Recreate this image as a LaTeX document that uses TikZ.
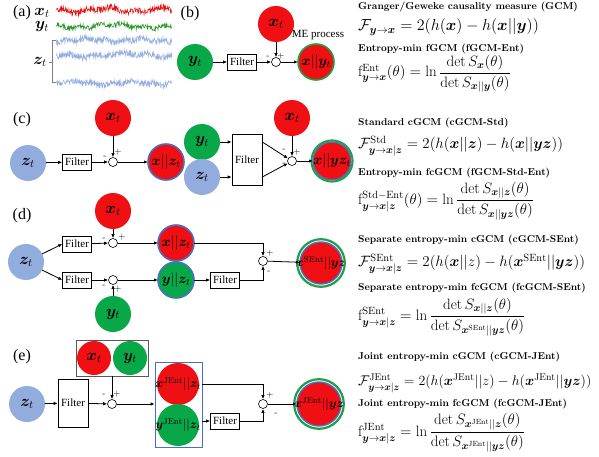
\RequirePackage{fix-cm}
\documentclass[tikz,border=0pt]{standalone}
\usepackage{amsmath,bm}
\usepackage{fontspec}
\newfontfamily\tms{Liberation Serif}
\usetikzlibrary{arrows.meta,calc}
\definecolor{redc}{RGB}{240,16,20}
\definecolor{greenc}{RGB}{8,168,72}
\definecolor{bluec}{RGB}{146,172,222}
\definecolor{blueb}{RGB}{70,112,196}
\definecolor{greenb}{RGB}{30,160,70}
\definecolor{serr}{RGB}{230,20,20}
\definecolor{serg}{RGB}{40,150,40}
\definecolor{serb}{RGB}{150,175,225}
\tikzset{
 cir/.style={circle, minimum size=36pt, inner sep=0pt, outer sep=0pt},
 rc/.style={cir, fill=redc},
 gc/.style={cir, fill=greenc},
 bc/.style={cir, fill=bluec},
 clab/.style={font=\fontsize{16}{16}\selectfont, inner sep=0pt},
 olab/.style={font=\fontsize{14}{14}\selectfont, inner sep=0pt},
 slab/.style={font=\fontsize{12.5}{12.5}\selectfont, inner sep=0pt},
 filt/.style={draw, line width=0.6pt, fill=white, inner sep=1pt, minimum width=29pt, minimum height=16pt, font=\tms\fontsize{11}{11}\selectfont},
 sumc/.style={circle, draw, line width=0.6pt, fill=white, minimum size=9pt, inner sep=0pt},
 arr/.style={-{Latex[length=4pt,width=3.4pt]}, line width=0.8pt},
 pm/.style={font=\fontsize{9}{9}\selectfont, inner sep=0pt},
 ttl/.style={anchor=west, font=\bfseries\fontsize{10}{11}\selectfont, inner sep=0pt},
 eq/.style={anchor=west, font=\fontsize{15}{17}\selectfont, inner sep=0pt},
 eqb/.style={anchor=west, font=\fontsize{16}{18}\selectfont, inner sep=0pt},
 eqs/.style={anchor=west, font=\fontsize{14}{16}\selectfont, inner sep=0pt},
 plab/.style={font=\tms\fontsize{16}{16}\selectfont, inner sep=0pt},
 ser/.style={line width=0.5pt}
}
\begin{document}
\begin{tikzpicture}[x=1pt,y=-1pt]
\useasboundingbox (0,0) rectangle (599,457);
\fill[white] (0,0) rectangle (599,457);
\pgfmathsetseed{11}
% ---------------- (a)
\node[plab] (pa) at (22,13) {(a)};
\node[clab] (ax) at (42,13) {$\bm{x}_t$};
\node[clab] (ay) at (42,27) {$\bm{y}_t$};
\node[clab] (az) at (40,62) {$\bm{z}_t$};
\draw[gray, line width=0.5pt] (56,40) -- (52,40) -- (52,82) -- (56,82);
\draw[gray, line width=0.5pt] (52,62) -- (49,62);
\draw[ser, serr] plot[domain=56:172, samples=300] (\x,{10+3*rand+1.8*sin(6*\x)+1.4*sin(15*\x+30)});
\draw[ser, serg] plot[domain=56:172, samples=300] (\x,{26+2.6*rand+1.6*sin(5*\x+60)+1.2*sin(17*\x)});
\draw[ser, serb] plot[domain=56:172, samples=300] (\x,{40+3*rand+1.3*sin(7*\x+10)+1.2*sin(19*\x+80)});
\draw[ser, serb] plot[domain=56:172, samples=300] (\x,{55+3.2*rand+1.5*sin(4*\x+120)+1.2*sin(14*\x)});
\draw[ser, serb] plot[domain=56:172, samples=300] (\x,{83+3*rand+1.3*sin(6*\x+200)+1.1*sin(18*\x+45)});
% ---------------- (b)
\node[plab] (pb) at (190,14) {(b)};
\node[gc, label={[clab]center:$\bm{y}_t$}] (by) at (195,62) {};
\node[filt] (bf) at (242,62) {Filter};
\node[sumc] (bs) at (276,62) {};
\node[rc, label={[clab]center:$\bm{x}_t$}] (bx) at (276,24) {};
\node[rc, draw=greenb, line width=1.6pt, label={[olab]center:$\bm{x}||\bm{y}_t$}] (bo) at (316,62) {};
\node[font=\tms\fontsize{11}{11}\selectfont, inner sep=0pt] (bme) at (318,35) {ME process};
\draw[arr] (by) -- (bf);
\draw[arr] (bf) -- (bs);
\draw[arr] (bx) -- (bs);
\draw[arr] (bs) -- (bo);
\node[pm] (bm1) at (268,57) {-};
\node[pm] (bp1) at (281,56) {$+$};
\node[ttl] (bt1) at (358,7) {Granger/Geweke causality measure (GCM)};
\node[eqb] (be1) at (358,27) {$\mathcal{F}_{\bm{y}\to\bm{x}} = 2(h(\bm{x}) - h(\bm{x}||\bm{y}))$};
\node[ttl] (bt2) at (358,49) {Entropy-min fGCM (fGCM-Ent)};
\node[eq] (be2) at (358,74) {$\mathrm{f}^{\mathrm{Ent}}_{\bm{y}\to\bm{x}}(\theta) = \ln\dfrac{\det S_{\bm{x}}(\theta)}{\det S_{\bm{x}||\bm{y}}(\theta)}$};
% ---------------- (c)
\node[plab] (pc) at (22,120) {(c)};
\node[bc, label={[clab]center:$\bm{z}_t$}] (cz) at (28,163) {};
\node[filt] (cf1) at (77,162) {Filter};
\node[sumc] (cs1) at (113,162) {};
\node[rc, label={[clab]center:$\bm{x}_t$}] (cx1) at (113,118) {};
\node[rc, draw=blueb, line width=1.6pt, label={[olab]center:$\bm{x}||\bm{z}_t$}] (co1) at (166,162) {};
\draw[arr] (cz) -- (cf1);
\draw[arr] (cf1) -- (cs1);
\draw[arr] (cx1) -- (cs1);
\draw[arr] (cs1) -- (co1);
\node[pm] (cm1) at (105,157) {-};
\node[pm] (cp1) at (118,152) {$+$};
\node[gc, label={[clab]center:$\bm{y}_t$}] (cy) at (202,142) {};
\node[bc, label={[clab]center:$\bm{z}_t$}] (cz2) at (202,177) {};
\node[filt, minimum width=30pt, minimum height=51pt] (cf2) at (247,160) {Filter};
\node[sumc] (cs2) at (292,161) {};
\node[rc, label={[clab]center:$\bm{x}_t$}] (cx2) at (292,118) {};
\node[rc, minimum size=38pt, draw=blueb, line width=1.4pt, label={[olab]center:$\bm{x}||\bm{y}\bm{z}_t$}] (co2) at (332,161) {};
\draw[greenb, line width=2pt] (co2.center) circle (20.6pt);
\draw[arr] (cy) -- (cy -| cf2.west);
\draw[arr] (cz2) -- (cz2 -| cf2.west);
\draw[arr] (cf2.east |- cy) -- (cs2);
\draw[arr] (cf2.east |- cz2) -- (cs2);
\draw[arr] (cx2) -- (cs2);
\draw[arr] (cs2) -- (co2);
\node[pm] (cm2) at (284,150) {-};
\node[pm] (cm3) at (284,164) {-};
\node[pm] (cp2) at (297,152) {$+$};
\node[ttl] (ct1) at (358,123) {Standard cGCM (cGCM-Std)};
\node[eq] (ce1) at (358,146) {$\mathcal{F}^{\mathrm{Std}}_{\bm{y}\to\bm{x}|\bm{z}} = 2(h(\bm{x}||\bm{z}) - h(\bm{x}||\bm{y}\bm{z}))$};
\node[ttl] (ct2) at (358,173) {Entropy-min fcGCM (fGCM-Std-Ent)};
\node[eq] (ce2) at (358,201) {$\mathrm{f}^{\mathrm{Std-Ent}}_{\bm{y}\to\bm{x}|\bm{z}}(\theta) = \ln\dfrac{\det S_{\bm{x}||\bm{z}}(\theta)}{\det S_{\bm{x}||\bm{y}\bm{z}}(\theta)}$};
% ---------------- (d)
\node[plab] (pd) at (22,216) {(d)};
\node[bc, label={[clab]center:$\bm{z}_t$}] (dz) at (26,262) {};
\node[filt] (df1) at (77,244) {Filter};
\node[filt] (df2) at (77,280) {Filter};
\node[sumc] (ds1) at (113,243) {};
\node[sumc] (ds2) at (113,280) {};
\node[rc, label={[clab]center:$\bm{x}_t$}] (dx) at (113,211) {};
\node[gc, label={[clab]center:$\bm{y}_t$}] (dy) at (113,314) {};
\node[rc, draw=blueb, line width=1.6pt, label={[olab]center:$\bm{x}||\bm{z}_t$}] (do1) at (176,243) {};
\node[gc, draw=blueb, line width=1.6pt, label={[olab]center:$\bm{y}||\bm{z}_t$}] (do2) at (176,280) {};
\node[filt] (df3) at (225,280) {Filter};
\node[sumc] (ds3) at (263,261) {};
\node[rc, minimum size=42pt, draw=blueb, line width=1.4pt, label={[slab]center:$\bm{x}^{\mathrm{SEnt}}||\bm{y}\bm{z}$}] (do) at (321,263) {};
\draw[greenb, line width=2.2pt] (do.center) circle (23.8pt);
\draw[arr] (dz) -- (df1.west);
\draw[arr] (dz) -- (df2.west);
\draw[arr] (df1) -- (ds1);
\draw[arr] (dx) -- (ds1);
\draw[arr] (ds1) -- (do1);
\draw[arr] (df2) -- (ds2);
\draw[arr] (dy) -- (ds2);
\draw[arr] (ds2) -- (do2);
\draw[arr] (do2) -- (df3);
\draw[arr] (do1.east) -| (ds3);
\draw[arr] (df3.east) -| (ds3);
\draw[arr] (ds3) -- (do);
\node[pm] (dm1) at (104,239) {-};
\node[pm] (dp1) at (122,237) {$+$};
\node[pm] (dm2) at (104,286) {-};
\node[pm] (dp2) at (118,289) {$+$};
\node[pm] (dp3) at (270,253) {$+$};
\node[pm] (dm3) at (269,272) {-};
\node[ttl] (dt1) at (358,240) {Separate entropy-min cGCM (cGCM-SEnt)};
\node[eq] (de1) at (358,264) {$\mathcal{F}^{\mathrm{SEnt}}_{\bm{y}\to\bm{x}|\bm{z}} = 2(h(\bm{x}||z) - h(\bm{x}^{\mathrm{SEnt}}||\bm{y}\bm{z}))$};
\node[ttl] (dt2) at (358,288) {Separate entropy-min fcGCM (fcGCM-SEnt)};
\node[eq] (de2) at (358,317) {$\mathrm{f}^{\mathrm{SEnt}}_{\bm{y}\to\bm{x}|\bm{z}} = \ln\dfrac{\det S_{\bm{x}||\bm{z}}(\theta)}{\det S_{\bm{x}^{\mathrm{SEnt}}||\bm{y}\bm{z}}(\theta)}$};
% ---------------- (e)
\node[plab] (pe) at (22,357) {(e)};
\node[draw=black!65, line width=0.8pt, minimum width=72pt, minimum height=36pt, inner sep=0pt] (eg) at (112,358) {};
\node[rc, minimum size=34pt, label={[clab]center:$\bm{x}_t$}] (ex) at (94,358) {};
\node[gc, minimum size=34pt, label={[clab]center:$\bm{y}_t$}] (ey) at (130,358) {};
\node[bc, label={[clab]center:$\bm{z}_t$}] (ez) at (27,404) {};
\node[filt, minimum width=30pt, minimum height=48pt] (ef1) at (73,403) {Filter};
\node[sumc] (es1) at (112,404) {};
\node[draw=blueb, line width=0.8pt, minimum width=47pt, minimum height=85pt, inner sep=0pt] (ebb) at (178.5,404.5) {};
\node[rc, minimum size=42pt, label={[slab]center:$\bm{x}^{\mathrm{JEnt}}||\bm{z}_t$}] (eo1) at (178,384) {};
\node[gc, minimum size=42pt, label={[slab]center:$\bm{y}^{\mathrm{JEnt}}||\bm{z}_t$}] (eo2) at (178,425) {};
\node[filt] (ef2) at (225,421) {Filter};
\node[sumc] (es2) at (263,404) {};
\node[rc, minimum size=44pt, draw=blueb, line width=1.4pt, label={[slab]center:$\bm{x}^{\mathrm{JEnt}}||\bm{y}\bm{z}$}] (eo) at (319,404) {};
\draw[greenb, line width=2.2pt] (eo.center) circle (24.8pt);
\coordinate (e1r) at (202,384);
\coordinate (e2r) at (202,421);
\draw[arr] (ez) -- (ef1);
\draw[arr] (ef1) -- (es1);
\draw[arr] (eg.south) -- (es1);
\draw[arr] (es1) -- (es1 -| ebb.west);
\draw[arr] (e1r) -| (es2);
\draw[arr] (e2r) -- (ef2.west);
\draw[arr] (ef2.east) -| (es2);
\draw[arr] (es2) -- (eo);
\node[pm] (em1) at (104,395) {-};
\node[pm] (ep1) at (117,394) {$+$};
\node[pm] (ep2) at (270,395) {$+$};
\node[pm] (em2) at (276,414) {-};
\node[ttl] (et1) at (358,357) {Joint entropy-min cGCM (cGCM-JEnt)};
\node[eqs] (ee1) at (358,383) {$\mathcal{F}^{\mathrm{JEnt}}_{\bm{y}\to\bm{x}|\bm{z}} = 2(h(\bm{x}^{\mathrm{JEnt}}||z) - h(\bm{x}^{\mathrm{JEnt}}||\bm{y}\bm{z}))$};
\node[ttl] (et2) at (358,404) {Joint entropy-min fcGCM (fcGCM-JEnt)};
\node[eq] (ee2) at (358,433) {$\mathrm{f}^{\mathrm{JEnt}}_{\bm{y}\to\bm{x}|\bm{z}} = \ln\dfrac{\det S_{\bm{x}^{\mathrm{JEnt}}||\bm{z}}(\theta)}{\det S_{\bm{x}^{\mathrm{JEnt}}||\bm{y}\bm{z}}(\theta)}$};
\end{tikzpicture}
\end{document}
